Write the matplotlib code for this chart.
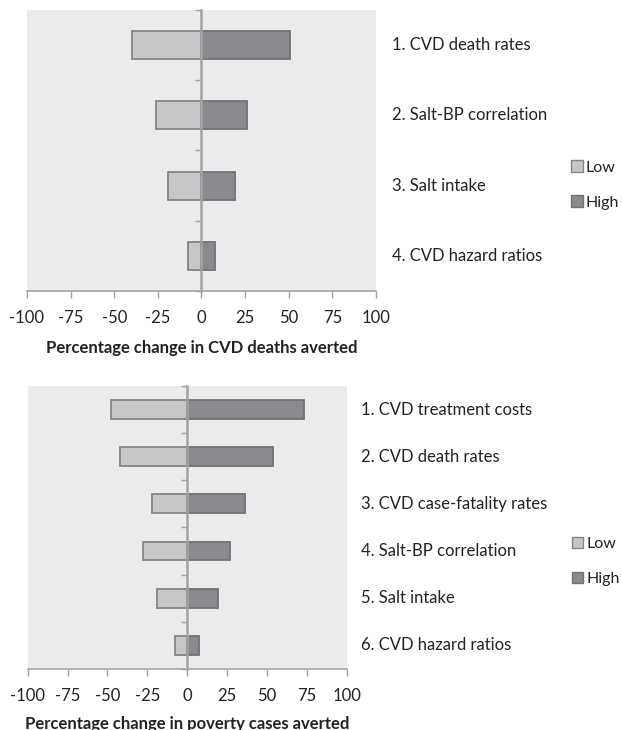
import numpy as np
import matplotlib.pyplot as plt
from matplotlib.patches import Patch

plt.rcParams['font.family'] = ['Lato', 'DejaVu Sans']

# top panel: CVD deaths averted
labels_top = ["1. CVD death rates", "2. Salt-BP correlation", "3. Salt intake", "4. CVD hazard ratios"]
low_top = [-40, -26, -19, -8]
high_top = [51, 26, 19, 8]

# bottom panel: poverty cases averted
labels_bot = ["1. CVD treatment costs", "2. CVD death rates", "3. CVD case-fatality rates",
              "4. Salt-BP correlation", "5. Salt intake", "6. CVD hazard ratios"]
low_bot = [-48, -42, -22, -28, -19, -7.5]
high_bot = [73, 54, 36.5, 27, 19, 7.5]

xticks = [-100, -75, -50, -25, 0, 25, 50, 75, 100]

BG = "#ebebed"
LOW_C, LOW_E = "#c6c7c9", "#858585"
HIGH_C, HIGH_E = "#898a8d", "#727272"
AX_C = "#a3a3a3"
TXT = "#222222"
FS = 12


def tornado(ax, labels, low, high, xlabel, label_x, legend_anchor, lpad):
    n = len(labels)
    y = np.arange(n)
    ax.set_facecolor(BG)
    ax.barh(y, low, height=0.4, color=LOW_C, edgecolor=LOW_E, linewidth=1.3, zorder=2)
    ax.barh(y, high, height=0.4, color=HIGH_C, edgecolor=HIGH_E, linewidth=1.3, zorder=2)
    ax.set_xlim(-100, 100)
    ax.set_ylim(n - 0.5, -0.5)
    ax.set_xticks(xticks)
    ax.set_xticklabels([str(t) for t in xticks], fontsize=FS, color=TXT)
    ax.tick_params(axis="x", direction="out", length=5, width=1, color=AX_C, pad=9)
    ax.set_yticks(np.arange(-0.5, n, 1.0))
    ax.set_yticklabels([])
    ax.tick_params(axis="y", direction="out", length=4, width=1, color=AX_C)
    for s in ["top", "right"]:
        ax.spines[s].set_visible(False)
    ax.spines["left"].set_position(("data", 0))
    ax.spines["left"].set_color(AX_C)
    ax.spines["left"].set_linewidth(1.8)
    ax.spines["left"].set_zorder(3)
    ax.spines["bottom"].set_color(AX_C)
    ax.spines["bottom"].set_linewidth(1.2)
    ax.set_xlabel(xlabel, fontsize=FS, fontweight="bold", color=TXT, labelpad=lpad)
    for yi, lab in zip(y, labels):
        ax.text(label_x, yi, lab, transform=ax.get_yaxis_transform(), ha="left", va="center",
                fontsize=FS, color=TXT, clip_on=False)
    handles = [Patch(facecolor=LOW_C, edgecolor=LOW_E, label="Low"),
               Patch(facecolor=HIGH_C, edgecolor=HIGH_E, label="High")]
    ax.legend(handles=handles, loc="center left", bbox_to_anchor=legend_anchor, frameon=False,
              fontsize=11.5, handlelength=0.7, handleheight=0.7, handletextpad=0.2,
              labelspacing=1.3, borderaxespad=0, labelcolor=TXT)


fig = plt.figure(figsize=(6.22, 7.30), dpi=100)
ax1 = fig.add_axes([0.0434, 0.6014, 0.561, 0.385])
ax2 = fig.add_axes([0.0445, 0.0836, 0.513, 0.3877])

tornado(ax1, labels_top, low_top, high_top, "Percentage change in CVD deaths averted",
        1.045, (1.542, 0.377), 10)
tornado(ax2, labels_bot, low_bot, high_bot, "Percentage change in poverty cases averted",
        1.045, (1.686, 0.38), 8)

fig.savefig("out.png", dpi=100, facecolor="white")
